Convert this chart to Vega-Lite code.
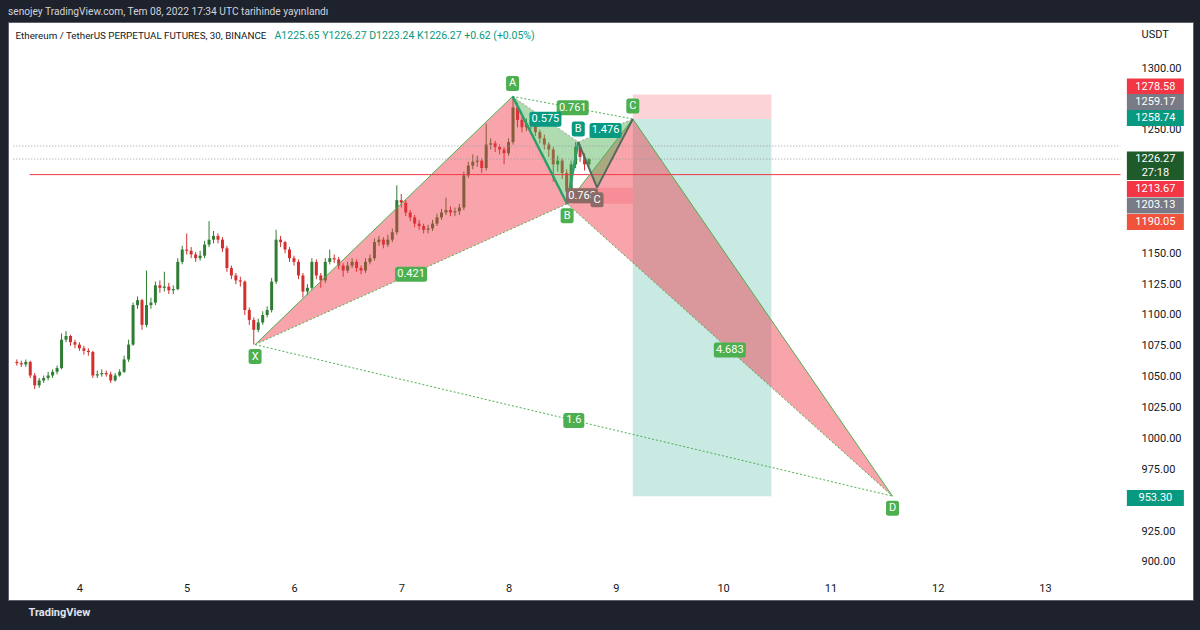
{
  "$schema": "https://vega.github.io/schema/vega-lite/v6.json",
  "width": 1185,
  "height": 578,
  "autosize": {"type": "none"},
  "padding": {"left": 8, "top": 22, "right": 7, "bottom": 30},
  "background": "#1e222d",
  "view": {"fill": "#ffffff", "stroke": "#5d606b", "strokeWidth": 1},
  "config": {"font": "Roboto"},
  "title": {
    "text": "senojey TradingView.com, Tem 08, 2022 17:34 UTC tarihinde yayınlandı",
    "anchor": "start", "frame": "group", "offset": 5,
    "color": "#d1d4dc", "fontSize": 10.2, "fontWeight": "normal", "font": "Roboto"
  },
  "resolve": {"scale": {"color": "independent", "opacity": "independent", "shape": "independent"}, "axis": {"x": "independent", "y": "independent"}},
  "datasets": {
    "candles": [
      {"t":82,"o":1062,"h":1064,"l":1059,"c":1061},{"t":83,"o":1061,"h":1063,"l":1058,"c":1060},{"t":84,"o":1060,"h":1064,"l":1058,"c":1062},{"t":85,"o":1062,"h":1063,"l":1049,"c":1051},{"t":86,"o":1051,"h":1053,"l":1040,"c":1043},{"t":87,"o":1043,"h":1049,"l":1041,"c":1047},{"t":88,"o":1047,"h":1051,"l":1045,"c":1049},{"t":89,"o":1049,"h":1054,"l":1047,"c":1051},{"t":90,"o":1051,"h":1056,"l":1049,"c":1054},{"t":91,"o":1054,"h":1059,"l":1052,"c":1057},
      {"t":92,"o":1057,"h":1085,"l":1056,"c":1080},{"t":93,"o":1080,"h":1087,"l":1078,"c":1083},{"t":94,"o":1083,"h":1084,"l":1075,"c":1078},{"t":95,"o":1078,"h":1080,"l":1073,"c":1076},{"t":96,"o":1076,"h":1078,"l":1071,"c":1073},{"t":97,"o":1073,"h":1075,"l":1068,"c":1071},{"t":98,"o":1071,"h":1073,"l":1067,"c":1070},{"t":99,"o":1070,"h":1071,"l":1049,"c":1051},{"t":100,"o":1051,"h":1055,"l":1049,"c":1052},{"t":101,"o":1052,"h":1056,"l":1050,"c":1053},
      {"t":102,"o":1053,"h":1055,"l":1050,"c":1052},{"t":103,"o":1052,"h":1054,"l":1045,"c":1047},{"t":104,"o":1047,"h":1053,"l":1046,"c":1051},{"t":105,"o":1051,"h":1056,"l":1050,"c":1054},{"t":106,"o":1054,"h":1067,"l":1053,"c":1064},{"t":107,"o":1064,"h":1080,"l":1062,"c":1076},{"t":108,"o":1076,"h":1110,"l":1075,"c":1108},{"t":109,"o":1108,"h":1115,"l":1105,"c":1112},{"t":110,"o":1112,"h":1113,"l":1088,"c":1092},{"t":111,"o":1092,"h":1136,"l":1090,"c":1108},
      {"t":112,"o":1108,"h":1114,"l":1105,"c":1110},{"t":113,"o":1110,"h":1127,"l":1108,"c":1124},{"t":114,"o":1124,"h":1128,"l":1118,"c":1122},{"t":115,"o":1122,"h":1135,"l":1119,"c":1123},{"t":116,"o":1123,"h":1126,"l":1117,"c":1120},{"t":117,"o":1120,"h":1124,"l":1117,"c":1121},{"t":118,"o":1121,"h":1146,"l":1120,"c":1143},{"t":119,"o":1143,"h":1156,"l":1141,"c":1153},{"t":120,"o":1153,"h":1166,"l":1149,"c":1152},{"t":121,"o":1152,"h":1155,"l":1146,"c":1149},
      {"t":122,"o":1149,"h":1151,"l":1143,"c":1146},{"t":123,"o":1146,"h":1152,"l":1144,"c":1148},{"t":124,"o":1148,"h":1160,"l":1146,"c":1157},{"t":125,"o":1157,"h":1176,"l":1155,"c":1161},{"t":126,"o":1161,"h":1168,"l":1158,"c":1164},{"t":127,"o":1164,"h":1166,"l":1158,"c":1161},{"t":128,"o":1161,"h":1163,"l":1151,"c":1154},{"t":129,"o":1154,"h":1156,"l":1135,"c":1138},{"t":130,"o":1138,"h":1140,"l":1129,"c":1132},{"t":131,"o":1132,"h":1134,"l":1125,"c":1128},
      {"t":132,"o":1128,"h":1131,"l":1123,"c":1127},{"t":133,"o":1127,"h":1128,"l":1100,"c":1104},{"t":134,"o":1104,"h":1106,"l":1092,"c":1096},{"t":135,"o":1096,"h":1098,"l":1076,"c":1088},{"t":136,"o":1088,"h":1097,"l":1086,"c":1094},{"t":137,"o":1094,"h":1103,"l":1092,"c":1100},{"t":138,"o":1100,"h":1107,"l":1098,"c":1104},{"t":139,"o":1104,"h":1130,"l":1102,"c":1127},{"t":140,"o":1127,"h":1169,"l":1125,"c":1161},{"t":141,"o":1161,"h":1164,"l":1155,"c":1159},
      {"t":142,"o":1159,"h":1160,"l":1150,"c":1153},{"t":143,"o":1153,"h":1155,"l":1143,"c":1146},{"t":144,"o":1146,"h":1148,"l":1140,"c":1143},{"t":145,"o":1143,"h":1145,"l":1129,"c":1132},{"t":146,"o":1132,"h":1134,"l":1114,"c":1119},{"t":147,"o":1119,"h":1125,"l":1116,"c":1122},{"t":148,"o":1122,"h":1146,"l":1120,"c":1143},{"t":149,"o":1143,"h":1145,"l":1129,"c":1132},{"t":150,"o":1132,"h":1134,"l":1122,"c":1128},{"t":151,"o":1128,"h":1146,"l":1126,"c":1143},
      {"t":152,"o":1143,"h":1153,"l":1141,"c":1146},{"t":153,"o":1146,"h":1149,"l":1142,"c":1145},{"t":154,"o":1145,"h":1147,"l":1137,"c":1140},{"t":155,"o":1140,"h":1142,"l":1131,"c":1136},{"t":156,"o":1136,"h":1143,"l":1134,"c":1140},{"t":157,"o":1140,"h":1146,"l":1138,"c":1143},{"t":158,"o":1143,"h":1145,"l":1135,"c":1138},{"t":159,"o":1138,"h":1140,"l":1133,"c":1136},{"t":160,"o":1136,"h":1146,"l":1134,"c":1143},{"t":161,"o":1143,"h":1149,"l":1141,"c":1146},
      {"t":162,"o":1146,"h":1162,"l":1144,"c":1159},{"t":163,"o":1159,"h":1164,"l":1156,"c":1161},{"t":164,"o":1161,"h":1163,"l":1154,"c":1157},{"t":165,"o":1157,"h":1165,"l":1155,"c":1161},{"t":166,"o":1161,"h":1170,"l":1159,"c":1167},{"t":167,"o":1167,"h":1205,"l":1165,"c":1193},{"t":168,"o":1193,"h":1198,"l":1187,"c":1191},{"t":169,"o":1191,"h":1193,"l":1180,"c":1183},{"t":170,"o":1183,"h":1185,"l":1176,"c":1179},{"t":171,"o":1179,"h":1181,"l":1171,"c":1174},
      {"t":172,"o":1174,"h":1177,"l":1169,"c":1172},{"t":173,"o":1172,"h":1174,"l":1166,"c":1169},{"t":174,"o":1169,"h":1173,"l":1166,"c":1170},{"t":175,"o":1170,"h":1177,"l":1168,"c":1174},{"t":176,"o":1174,"h":1182,"l":1172,"c":1179},{"t":177,"o":1179,"h":1186,"l":1177,"c":1183},{"t":178,"o":1183,"h":1195,"l":1181,"c":1185},{"t":179,"o":1185,"h":1188,"l":1180,"c":1183},{"t":180,"o":1183,"h":1187,"l":1180,"c":1184},{"t":181,"o":1184,"h":1190,"l":1181,"c":1187},
      {"t":182,"o":1187,"h":1216,"l":1185,"c":1213},{"t":183,"o":1213,"h":1224,"l":1211,"c":1221},{"t":184,"o":1221,"h":1230,"l":1218,"c":1224},{"t":185,"o":1224,"h":1229,"l":1220,"c":1225},{"t":186,"o":1225,"h":1227,"l":1215,"c":1219},{"t":187,"o":1219,"h":1255,"l":1217,"c":1238},{"t":188,"o":1238,"h":1243,"l":1234,"c":1239},{"t":189,"o":1239,"h":1241,"l":1232,"c":1236},{"t":190,"o":1236,"h":1238,"l":1230,"c":1234},{"t":191,"o":1234,"h":1236,"l":1222,"c":1231},
      {"t":192,"o":1231,"h":1243,"l":1229,"c":1240},{"t":193,"o":1240,"h":1277,"l":1238,"c":1268},{"t":194,"o":1268,"h":1272,"l":1252,"c":1258},{"t":195,"o":1258,"h":1260,"l":1248,"c":1252},{"t":196,"o":1252,"h":1259,"l":1249,"c":1255},{"t":197,"o":1255,"h":1260,"l":1250,"c":1256},{"t":198,"o":1256,"h":1258,"l":1245,"c":1248},{"t":199,"o":1248,"h":1250,"l":1239,"c":1243},{"t":200,"o":1243,"h":1246,"l":1234,"c":1238},{"t":201,"o":1238,"h":1240,"l":1228,"c":1234},
      {"t":202,"o":1234,"h":1236,"l":1208,"c":1222},{"t":203,"o":1222,"h":1229,"l":1216,"c":1225},{"t":204,"o":1225,"h":1227,"l":1210,"c":1215},{"t":205,"o":1215,"h":1218,"l":1190.05,"c":1200},{"t":206,"o":1200,"h":1225,"l":1198,"c":1222},{"t":207,"o":1222,"h":1240,"l":1219,"c":1236},{"t":208,"o":1236,"h":1238,"l":1224,"c":1228},{"t":209,"o":1228,"h":1231,"l":1217,"c":1222},{"t":210,"o":1222,"h":1227,"l":1220,"c":1226.27}
    ],
    "tri": [
      {"g":"XAB","t":135.3,"hi":1076,"lo":1076},{"g":"XAB","t":192.9,"hi":1277,"lo":1170.1},{"g":"XAB","t":205.1,"hi":1190.05,"lo":1190.05},
      {"g":"BCD","t":205.1,"hi":1190.05,"lo":1190.05},{"g":"BCD","t":219.8,"hi":1258.74,"lo":1142.25},{"g":"BCD","t":277.9,"hi":953.3,"lo":953.3},
      {"g":"s1","t":192.9,"hi":1277,"lo":1277},{"g":"s1","t":205.1,"hi":1246.3,"lo":1190.05},{"g":"s1","t":207.6,"hi":1240,"lo":1240},
      {"g":"s2","t":207.6,"hi":1240,"lo":1240},{"g":"s2","t":211.8,"hi":1246.45,"lo":1203.13},{"g":"s2","t":219.8,"hi":1258.74,"lo":1258.74}
    ],
    "seg": [
      {"k":"bs","t1":135.3,"p1":1076,"t2":192.9,"p2":1277},
      {"k":"bs","t1":192.9,"p1":1277,"t2":205.1,"p2":1190.05},
      {"k":"bs","t1":205.1,"p1":1190.05,"t2":219.8,"p2":1258.74},
      {"k":"bs","t1":219.8,"p1":1258.74,"t2":277.9,"p2":953.3},
      {"k":"bd","t1":135.3,"p1":1076,"t2":205.1,"p2":1190.05},
      {"k":"bd","t1":192.9,"p1":1277,"t2":219.8,"p2":1258.74},
      {"k":"bd","t1":135.3,"p1":1076,"t2":277.9,"p2":953.3},
      {"k":"bd","t1":205.1,"p1":1190.05,"t2":277.9,"p2":953.3},
      {"k":"sg","t1":192.9,"p1":1277,"t2":205.1,"p2":1190.05},
      {"k":"sg","t1":205.1,"p1":1190.05,"t2":207.6,"p2":1240},
      {"k":"sk","t1":207.6,"p1":1240,"t2":211.8,"p2":1203.13},
      {"k":"sk","t1":211.8,"p1":1203.13,"t2":219.8,"p2":1258.74},
      {"k":"sd","t1":192.9,"p1":1277,"t2":207.6,"p2":1240},
      {"k":"sd","t1":205.1,"p1":1190.05,"t2":211.8,"p2":1203.13},
      {"k":"sd","t1":207.6,"p1":1240,"t2":219.8,"p2":1258.74}
    ],
    "levels": [
      {"k":"red","p":1213.67,"t1":84.9,"t2":328.9},
      {"k":"dot","p":1226.27,"t1":81.2,"t2":328.9},
      {"k":"dot","p":1236.8,"t1":81.2,"t2":328.9}
    ],
    "zones": [
      {"k":"tgt","t1":219.8,"t2":250.8,"p1":953.3,"p2":1258.74},
      {"k":"stop","t1":219.8,"t2":250.8,"p1":1258.74,"p2":1278.58},
      {"k":"stop2","t1":206.1,"t2":219.8,"p1":1190.05,"p2":1203.13}
    ],
    "labels": [
      {"t":135.3,"p":1076,"s":"X","pos":"dn","c":"g"},
      {"t":192.9,"p":1277,"s":"A","pos":"up","c":"g"},
      {"t":205.1,"p":1190.05,"s":"B","pos":"dn","c":"g"},
      {"t":219.8,"p":1258.74,"s":"C","pos":"up","c":"g"},
      {"t":277.9,"p":953.3,"s":"D","pos":"dn","c":"g"},
      {"t":207.6,"p":1240,"s":"B","pos":"up","c":"t"},
      {"t":211.8,"p":1203.13,"s":"C","pos":"dn","c":"b"}
    ],
    "ratios": [
      {"t":170.2,"p":1133,"s":"0.421","c":"g"},
      {"t":206.35,"p":1267.9,"s":"0.761","c":"g"},
      {"t":206.6,"p":1014.6,"s":"1.6","c":"g"},
      {"t":241.5,"p":1071.7,"s":"4.683","c":"g"},
      {"t":200.25,"p":1258.5,"s":"0.575","c":"t"},
      {"t":213.7,"p":1249.4,"s":"1.476","c":"t"},
      {"t":208.45,"p":1196.6,"s":"0.768","c":"b"}
    ],
    "badges": [
      {"s":"1278.58","at":1285.0,"k":"red"},
      {"s":"1259.17","at":1272.5,"k":"grey"},
      {"s":"1258.74","at":1259.5,"k":"teal"},
      {"s":"1213.67","at":1202.0,"k":"red"},
      {"s":"1203.13","at":1188.7,"k":"grey"},
      {"s":"1190.05","at":1175.3,"k":"orange"},
      {"s":"953.30","at":951.8,"k":"teal"}
    ],
    "last": [
      {"s":"1226.27\n27:18","at":1220.8}
    ]
  },
  "layer": [
    {
      "data": {"name": "candles"},
      "resolve": {"axis": {"x": "independent", "y": "independent"}},
      "layer": [
        {
          "mark": {"type": "rule", "strokeWidth": 1},
          "encoding": {
            "x": {"field": "t", "type": "quantitative", "scale": {"domain": [81.14, 344], "nice": false, "zero": false},
              "axis": {"orient": "bottom", "offset": -25, "values": [96,120,144,168,192,216,240,264,288,312], "labelExpr": "format(datum.value/24,'d')", "domain": false, "ticks": false, "grid": false, "labelColor": "#131722", "labelFontSize": 11, "labelPadding": 7, "labelFont": "Roboto",
                "title": "TradingView", "titleX": 20, "titleY": 37, "titleAlign": "left", "titleBaseline": "middle", "titleColor": "#e0e3eb", "titleFontSize": 11, "titleFontWeight": "bold", "titleFont": "Roboto"}},
            "y": {"field": "l", "type": "quantitative", "scale": {"domain": [869.2, 1337.25], "nice": false, "zero": false},
              "axis": {"orient": "right", "offset": -68, "values": [900,925,975,1000,1025,1050,1075,1100,1125,1150,1250,1300], "format": ".2f", "domain": false, "ticks": false, "grid": false, "labelColor": "#131722", "labelFontSize": 11, "labelPadding": 16, "labelFont": "Roboto",
                "title": "USDT", "titleAngle": 0, "titleX": 16, "titleY": 12, "titleAlign": "left", "titleBaseline": "middle", "titleColor": "#131722", "titleFontSize": 11, "titleFontWeight": "normal", "titleFont": "Roboto"}},
            "y2": {"field": "h"},
            "color": {"condition": {"test": "datum.c >= datum.o", "value": "#2e7d32"}, "value": "#d32f2f"}
          }
        },
        {
          "mark": {"type": "bar", "width": 3},
          "encoding": {
            "x": {"field": "t", "type": "quantitative", "scale": {"domain": [81.14, 344], "nice": false, "zero": false}, "axis": null},
            "y": {"field": "o", "type": "quantitative", "scale": {"domain": [869.2, 1337.25], "nice": false, "zero": false}, "axis": null},
            "y2": {"field": "c"},
            "color": {"condition": {"test": "datum.c >= datum.o", "value": "#2e7d32"}, "value": "#d32f2f"}
          }
        }
      ]
    },
    {
      "data": {"name": "zones"},
      "mark": {"type": "rect"},
      "encoding": {
        "x": {"field": "t1", "type": "quantitative", "scale": {"domain": [81.14, 344], "nice": false, "zero": false},
          "axis": {"orient": "top", "labels": false, "domain": false, "ticks": false, "grid": false, "title": "Ethereum / TetherUS PERPETUAL FUTURES, 30, BINANCE", "titleX": 7, "titleY": 13, "titleAlign": "left", "titleBaseline": "middle", "titleColor": "#131722", "titleFontSize": 9.8, "titleFontWeight": "normal", "titleFont": "Roboto"}},
        "x2": {"field": "t2"},
        "y": {"field": "p1", "type": "quantitative", "scale": {"domain": [869.2, 1337.25], "nice": false, "zero": false}, "axis": null},
        "y2": {"field": "p2"},
        "color": {"field": "k", "type": "nominal", "scale": {"domain": ["tgt","stop","stop2"], "range": ["#089981","#f23645","#f23645"]}, "legend": null},
        "opacity": {"field": "k", "type": "nominal", "scale": {"domain": ["tgt","stop","stop2"], "range": [0.22, 0.2, 0.3]}, "legend": null}
      }
    },
    {
      "data": {"name": "tri"},
      "mark": {"type": "area", "interpolate": "linear"},
      "encoding": {
        "x": {"field": "t", "type": "quantitative", "scale": {"domain": [81.14, 344], "nice": false, "zero": false},
          "axis": {"orient": "top", "labels": false, "domain": false, "ticks": false, "grid": false, "title": "A1225.65  Y1226.27  D1223.24  K1226.27  +0.62 (+0.05%)", "titleX": 266, "titleY": 13, "titleAlign": "left", "titleBaseline": "middle", "titleColor": "#089981", "titleFontSize": 10.5, "titleFontWeight": "normal", "titleFont": "Roboto"}},
        "y": {"field": "hi", "type": "quantitative", "scale": {"domain": [869.2, 1337.25], "nice": false, "zero": false}, "axis": null},
        "y2": {"field": "lo"},
        "detail": {"field": "g"},
        "color": {"field": "g", "type": "nominal", "scale": {"domain": ["XAB","BCD","s1","s2"], "range": ["#f23645","#f23645","#4caf50","#4caf50"]}, "legend": null},
        "opacity": {"field": "g", "type": "nominal", "scale": {"domain": ["XAB","BCD","s1","s2"], "range": [0.45, 0.45, 0.3, 0.3]}, "legend": null}
      }
    },
    {
      "data": {"name": "levels"},
      "layer": [
        {
          "transform": [{"filter": "datum.k == 'red'"}],
          "mark": {"type": "rule", "color": "#f23645", "strokeWidth": 1},
          "encoding": {
            "x": {"field": "t1", "type": "quantitative", "scale": {"domain": [81.14, 344], "nice": false, "zero": false}, "axis": null},
            "x2": {"field": "t2"},
            "y": {"field": "p", "type": "quantitative", "scale": {"domain": [869.2, 1337.25], "nice": false, "zero": false}, "axis": null}
          }
        },
        {
          "transform": [{"filter": "datum.k == 'dot'"}],
          "mark": {"type": "rule", "color": "#9598a1", "strokeWidth": 1, "strokeDash": [1, 2]},
          "encoding": {
            "x": {"field": "t1", "type": "quantitative", "scale": {"domain": [81.14, 344], "nice": false, "zero": false}, "axis": null},
            "x2": {"field": "t2"},
            "y": {"field": "p", "type": "quantitative", "scale": {"domain": [869.2, 1337.25], "nice": false, "zero": false}, "axis": null}
          }
        }
      ]
    },
    {
      "data": {"name": "seg"},
      "layer": [
        {
          "transform": [{"filter": "datum.k == 'bs'"}],
          "mark": {"type": "rule", "color": "#4caf50", "strokeWidth": 1},
          "encoding": {
            "x": {"field": "t1", "type": "quantitative", "scale": {"domain": [81.14, 344], "nice": false, "zero": false}, "axis": null},
            "x2": {"field": "t2"},
            "y": {"field": "p1", "type": "quantitative", "scale": {"domain": [869.2, 1337.25], "nice": false, "zero": false}, "axis": null},
            "y2": {"field": "p2"}
          }
        },
        {
          "transform": [{"filter": "datum.k == 'bd'"}],
          "mark": {"type": "rule", "color": "#4caf50", "strokeWidth": 1, "strokeDash": [2, 2]},
          "encoding": {
            "x": {"field": "t1", "type": "quantitative", "scale": {"domain": [81.14, 344], "nice": false, "zero": false}, "axis": null},
            "x2": {"field": "t2"},
            "y": {"field": "p1", "type": "quantitative", "scale": {"domain": [869.2, 1337.25], "nice": false, "zero": false}, "axis": null},
            "y2": {"field": "p2"}
          }
        },
        {
          "transform": [{"filter": "datum.k == 'sd'"}],
          "mark": {"type": "rule", "color": "#9e9e9e", "strokeWidth": 1, "strokeDash": [2, 2]},
          "encoding": {
            "x": {"field": "t1", "type": "quantitative", "scale": {"domain": [81.14, 344], "nice": false, "zero": false}, "axis": null},
            "x2": {"field": "t2"},
            "y": {"field": "p1", "type": "quantitative", "scale": {"domain": [869.2, 1337.25], "nice": false, "zero": false}, "axis": null},
            "y2": {"field": "p2"}
          }
        },
        {
          "transform": [{"filter": "datum.k == 'sg'"}],
          "mark": {"type": "rule", "color": "#2e9e6b", "strokeWidth": 2.5},
          "encoding": {
            "x": {"field": "t1", "type": "quantitative", "scale": {"domain": [81.14, 344], "nice": false, "zero": false}, "axis": null},
            "x2": {"field": "t2"},
            "y": {"field": "p1", "type": "quantitative", "scale": {"domain": [869.2, 1337.25], "nice": false, "zero": false}, "axis": null},
            "y2": {"field": "p2"}
          }
        },
        {
          "transform": [{"filter": "datum.k == 'sk'"}],
          "mark": {"type": "rule", "color": "#55695b", "strokeWidth": 2},
          "encoding": {
            "x": {"field": "t1", "type": "quantitative", "scale": {"domain": [81.14, 344], "nice": false, "zero": false}, "axis": null},
            "x2": {"field": "t2"},
            "y": {"field": "p1", "type": "quantitative", "scale": {"domain": [869.2, 1337.25], "nice": false, "zero": false}, "axis": null},
            "y2": {"field": "p2"}
          }
        }
      ]
    },
    {
      "data": {"name": "ratios"},
      "layer": [
        {
          "mark": {"type": "point", "filled": true, "opacity": 1, "size": 400, "strokeWidth": 0},
          "encoding": {
            "x": {"field": "t", "type": "quantitative", "scale": {"domain": [81.14, 344], "nice": false, "zero": false}, "axis": null},
            "y": {"field": "p", "type": "quantitative", "scale": {"domain": [869.2, 1337.25], "nice": false, "zero": false}, "axis": null},
            "shape": {"condition": {"test": "length(datum.s) < 4", "value": "M-0.8,-0.75H0.8Q1.05,-0.75,1.05,-0.5V0.5Q1.05,0.75,0.8,0.75H-0.8Q-1.05,0.75,-1.05,0.5V-0.5Q-1.05,-0.75,-0.8,-0.75Z"}, "value": "M-1.35,-0.75H1.35Q1.6,-0.75,1.6,-0.5V0.5Q1.6,0.75,1.35,0.75H-1.35Q-1.6,0.75,-1.6,0.5V-0.5Q-1.6,-0.75,-1.35,-0.75Z"},
            "color": {"field": "c", "type": "nominal", "scale": {"domain": ["g","t","b"], "range": ["#4caf50","#089981","#8a6b66"]}, "legend": null}
          }
        },
        {
          "mark": {"type": "text", "color": "#ffffff", "fontSize": 11, "font": "Roboto", "align": "center", "baseline": "middle"},
          "encoding": {
            "x": {"field": "t", "type": "quantitative", "scale": {"domain": [81.14, 344], "nice": false, "zero": false}, "axis": null},
            "y": {"field": "p", "type": "quantitative", "scale": {"domain": [869.2, 1337.25], "nice": false, "zero": false}, "axis": null},
            "text": {"field": "s"}
          }
        }
      ]
    },
    {
      "data": {"name": "labels"},
      "transform": [{"filter": "datum.pos == 'up'"}],
      "layer": [
        {
          "mark": {"type": "point", "filled": true, "opacity": 1, "size": 400, "strokeWidth": 0, "yOffset": -13, "shape": "M-0.4,-0.75H0.4Q0.65,-0.75,0.65,-0.5V0.5Q0.65,0.75,0.4,0.75H-0.4Q-0.65,0.75,-0.65,0.5V-0.5Q-0.65,-0.75,-0.4,-0.75Z"},
          "encoding": {
            "x": {"field": "t", "type": "quantitative", "scale": {"domain": [81.14, 344], "nice": false, "zero": false}, "axis": null},
            "y": {"field": "p", "type": "quantitative", "scale": {"domain": [869.2, 1337.25], "nice": false, "zero": false}, "axis": null},
            "color": {"field": "c", "type": "nominal", "scale": {"domain": ["g","t","b"], "range": ["#4caf50","#089981","#8a6b66"]}, "legend": null}
          }
        },
        {
          "mark": {"type": "text", "color": "#ffffff", "fontSize": 11, "font": "Roboto", "align": "center", "baseline": "middle", "yOffset": -13},
          "encoding": {
            "x": {"field": "t", "type": "quantitative", "scale": {"domain": [81.14, 344], "nice": false, "zero": false}, "axis": null},
            "y": {"field": "p", "type": "quantitative", "scale": {"domain": [869.2, 1337.25], "nice": false, "zero": false}, "axis": null},
            "text": {"field": "s"}
          }
        }
      ]
    },
    {
      "data": {"name": "labels"},
      "transform": [{"filter": "datum.pos == 'dn'"}],
      "layer": [
        {
          "mark": {"type": "point", "filled": true, "opacity": 1, "size": 400, "strokeWidth": 0, "yOffset": 12, "shape": "M-0.4,-0.75H0.4Q0.65,-0.75,0.65,-0.5V0.5Q0.65,0.75,0.4,0.75H-0.4Q-0.65,0.75,-0.65,0.5V-0.5Q-0.65,-0.75,-0.4,-0.75Z"},
          "encoding": {
            "x": {"field": "t", "type": "quantitative", "scale": {"domain": [81.14, 344], "nice": false, "zero": false}, "axis": null},
            "y": {"field": "p", "type": "quantitative", "scale": {"domain": [869.2, 1337.25], "nice": false, "zero": false}, "axis": null},
            "color": {"field": "c", "type": "nominal", "scale": {"domain": ["g","t","b"], "range": ["#4caf50","#089981","#8a6b66"]}, "legend": null}
          }
        },
        {
          "mark": {"type": "text", "color": "#ffffff", "fontSize": 11, "font": "Roboto", "align": "center", "baseline": "middle", "yOffset": 12},
          "encoding": {
            "x": {"field": "t", "type": "quantitative", "scale": {"domain": [81.14, 344], "nice": false, "zero": false}, "axis": null},
            "y": {"field": "p", "type": "quantitative", "scale": {"domain": [869.2, 1337.25], "nice": false, "zero": false}, "axis": null},
            "text": {"field": "s"}
          }
        }
      ]
    },
    {
      "data": {"name": "badges"},
      "layer": [
        {
          "mark": {"type": "point", "filled": true, "opacity": 1, "size": 400, "strokeWidth": 0, "shape": "M-2.85,-0.8H2.85V0.8H-2.85Z"},
          "encoding": {
            "x": {"datum": 336.7, "type": "quantitative", "scale": {"domain": [81.14, 344], "nice": false, "zero": false}, "axis": null},
            "y": {"field": "at", "type": "quantitative", "scale": {"domain": [869.2, 1337.25], "nice": false, "zero": false}, "axis": null},
            "color": {"field": "k", "type": "nominal", "scale": {"domain": ["red","grey","teal","orange"], "range": ["#f23645","#787b86","#089981","#f0533c"]}, "legend": null}
          }
        },
        {
          "mark": {"type": "text", "color": "#ffffff", "fontSize": 11, "font": "Roboto", "align": "center", "baseline": "middle"},
          "encoding": {
            "x": {"datum": 336.7, "type": "quantitative", "scale": {"domain": [81.14, 344], "nice": false, "zero": false}, "axis": null},
            "y": {"field": "at", "type": "quantitative", "scale": {"domain": [869.2, 1337.25], "nice": false, "zero": false}, "axis": null},
            "text": {"field": "s"}
          }
        }
      ]
    },
    {
      "data": {"name": "last"},
      "layer": [
        {
          "mark": {"type": "point", "filled": true, "opacity": 1, "size": 400, "strokeWidth": 0, "color": "#1f5a2a", "shape": "M-2.85,-1.43H2.85V1.43H-2.85Z"},
          "encoding": {
            "x": {"datum": 336.7, "type": "quantitative", "scale": {"domain": [81.14, 344], "nice": false, "zero": false}, "axis": null},
            "y": {"field": "at", "type": "quantitative", "scale": {"domain": [869.2, 1337.25], "nice": false, "zero": false}, "axis": null}
          }
        },
        {
          "mark": {"type": "text", "color": "#ffffff", "fontSize": 11, "font": "Roboto", "align": "center", "baseline": "middle", "lineBreak": "\n", "lineHeight": 14, "dy": -7},
          "encoding": {
            "x": {"datum": 336.7, "type": "quantitative", "scale": {"domain": [81.14, 344], "nice": false, "zero": false}, "axis": null},
            "y": {"field": "at", "type": "quantitative", "scale": {"domain": [869.2, 1337.25], "nice": false, "zero": false}, "axis": null},
            "text": {"field": "s"}
          }
        }
      ]
    }
  ]
}
